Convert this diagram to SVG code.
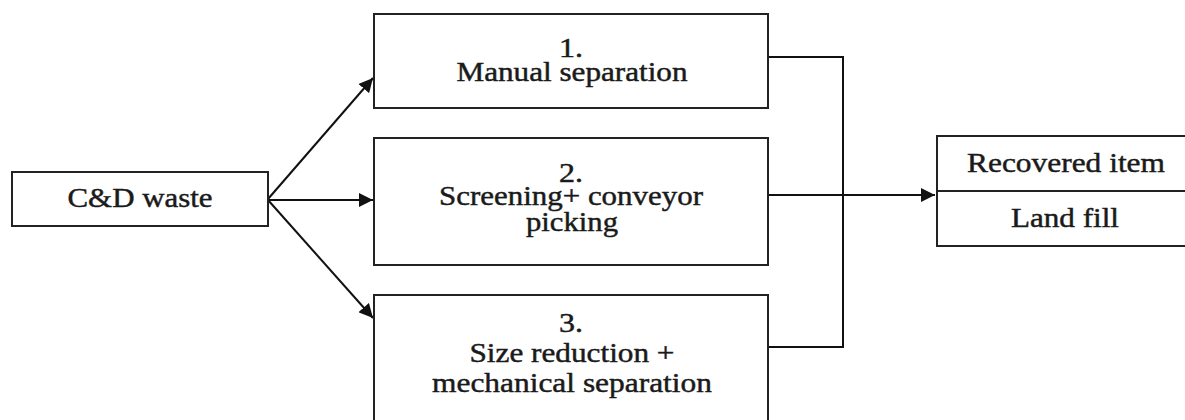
<svg xmlns="http://www.w3.org/2000/svg" width="1185" height="420" viewBox="0 0 1185 420">
<style>
.box{fill:#fff;stroke:#222;stroke-width:2}
.t{font-size:27px;fill:#1a1a1a;stroke:#1a1a1a;stroke-width:0.45;text-anchor:middle}
.c{fill:none;stroke:#111;stroke-width:2}
</style>
<defs>
<marker id="ah" viewBox="0 0 10 10" refX="10" refY="5" markerWidth="7" markerHeight="7" markerUnits="strokeWidth" orient="auto">
<path d="M0,0 L10,5 L0,10 Z" fill="#111"/>
</marker>
</defs>
<rect width="1185" height="420" fill="#fff"/>
<g id="connectors">
<line class="c" x1="268" y1="199" x2="373" y2="78" marker-end="url(#ah)"/>
<line class="c" x1="268" y1="200" x2="373" y2="200" marker-end="url(#ah)"/>
<line class="c" x1="268" y1="200" x2="373" y2="318" marker-end="url(#ah)"/>
<polyline class="c" points="768,57 843,57 843,347 768,347"/>
<line class="c" x1="768" y1="195" x2="935" y2="195" marker-end="url(#ah)"/>
</g>
<g font-family="Liberation Serif, Times New Roman, serif">
<g id="node-cd">
<rect class="box" x="12" y="172" width="256" height="54"/>
<text class="t" x="140" y="207" textLength="145" lengthAdjust="spacingAndGlyphs">C&amp;D waste</text>
</g>
<g id="node-1">
<rect class="box" x="374" y="14" width="394" height="94"/>
<text class="t" x="571" y="57" textLength="24" lengthAdjust="spacingAndGlyphs">1.</text>
<text class="t" x="572" y="81" textLength="231" lengthAdjust="spacingAndGlyphs">Manual separation</text>
</g>
<g id="node-2">
<rect class="box" x="374" y="138" width="394" height="127"/>
<text class="t" x="571" y="182" textLength="24" lengthAdjust="spacingAndGlyphs">2.</text>
<text class="t" x="571" y="205" textLength="264" lengthAdjust="spacingAndGlyphs">Screening+ conveyor</text>
<text class="t" x="572" y="231" textLength="92" lengthAdjust="spacingAndGlyphs">picking</text>
</g>
<g id="node-3">
<rect class="box" x="374" y="295" width="394" height="135"/>
<text class="t" x="571" y="332" textLength="24" lengthAdjust="spacingAndGlyphs">3.</text>
<text class="t" x="572" y="362" textLength="205" lengthAdjust="spacingAndGlyphs">Size reduction +</text>
<text class="t" x="572" y="392" textLength="280" lengthAdjust="spacingAndGlyphs">mechanical separation</text>
</g>
<g id="node-out">
<rect class="box" x="937" y="136" width="260" height="110"/>
<line class="box" x1="937" y1="191" x2="1197" y2="191"/>
<text class="t" x="1066" y="172" textLength="198" lengthAdjust="spacingAndGlyphs">Recovered item</text>
<text class="t" x="1065" y="227" textLength="108" lengthAdjust="spacingAndGlyphs">Land fill</text>
</g>
</g>
</svg>
